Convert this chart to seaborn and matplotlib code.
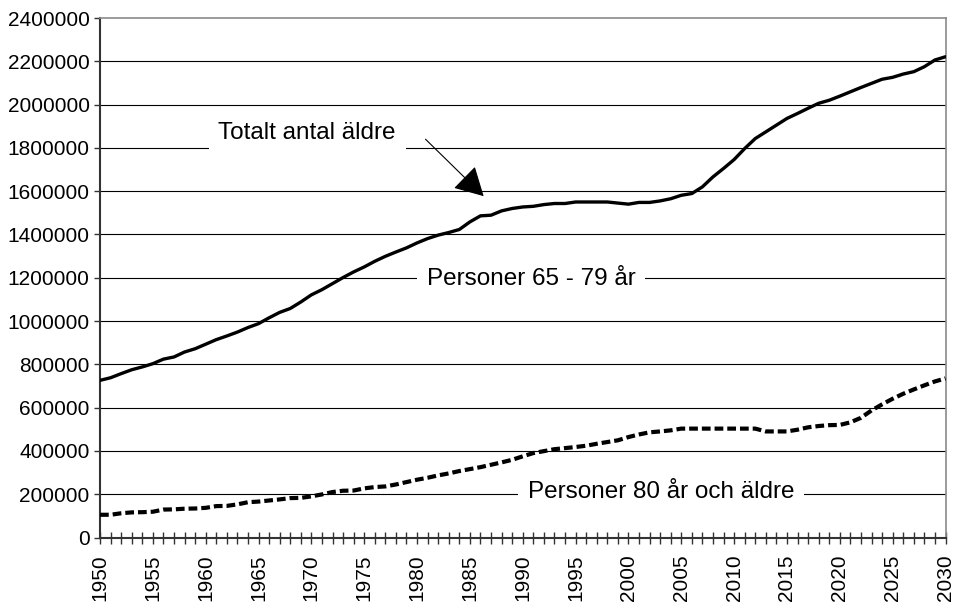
import numpy as np
import pandas as pd
import matplotlib
matplotlib.use("Agg")
import matplotlib.pyplot as plt
from matplotlib.ticker import MultipleLocator
import seaborn as sns

years = list(range(1950, 2031))

totalt = [
    726000, 738000, 757000, 775000, 788000, 803000, 824000, 834000, 857000, 872000,
    893000, 914000, 931000, 949000, 970000, 988000, 1015000, 1040000, 1058000, 1088000,
    1121000, 1145000, 1173000, 1201000, 1227000, 1250000, 1276000, 1299000, 1319000, 1338000,
    1361000, 1381000, 1397000, 1409000, 1423000, 1458000, 1486000, 1489000, 1509000, 1520000,
    1527000, 1530000, 1538000, 1543000, 1543000, 1550000, 1550000, 1550000, 1550000, 1545000,
    1540000, 1548000, 1548000, 1555000, 1565000, 1581000, 1589000, 1620000, 1666000, 1705000,
    1746000, 1797000, 1843000, 1874000, 1905000, 1936000, 1959000, 1983000, 2006000, 2020000,
    2039000, 2059000, 2079000, 2098000, 2117000, 2126000, 2141000, 2152000, 2175000, 2206000,
    2221000,
]

aldre80 = [
    105000, 105000, 112000, 116000, 117000, 119000, 129000, 130000, 133000, 134000,
    137000, 145000, 146000, 153000, 163000, 166000, 171000, 176000, 182000, 183000,
    190000, 199000, 210000, 216000, 217000, 227000, 233000, 236000, 245000, 256000,
    267000, 276000, 287000, 296000, 307000, 316000, 325000, 336000, 347000, 359000,
    375000, 390000, 399000, 408000, 413000, 418000, 424000, 433000, 441000, 449000,
    464000, 476000, 486000, 490000, 495000, 503000, 503000, 503000, 503000, 503000,
    503000, 503000, 503000, 490000, 490000, 490000, 498000, 509000, 515000, 519000,
    520000, 532000, 553000, 587000, 615000, 641000, 664000, 684000, 703000, 721000,
    735000,
]

y_ticks = list(range(0, 2400001, 200000))
x_ticks = list(range(1950, 2031, 5))

label_total = "Totalt antal äldre"
label_6579 = "Personer 65 - 79 år"
label_80 = "Personer 80 år och äldre"

df = pd.DataFrame({"år": years, "totalt": totalt, "80": aldre80})

sns.set_style("white")
plt.rcParams["font.family"] = ["Liberation Sans", "DejaVu Sans"]
plt.rcParams["text.color"] = "black"
plt.rcParams["xtick.color"] = "black"
plt.rcParams["ytick.color"] = "black"

fig = plt.figure(figsize=(9.58, 6.09), dpi=100)
ax = fig.add_axes([100 / 958, 1 - 537.5 / 609, 845.5 / 958, (537.5 - 18) / 609])

for yv in y_ticks[1:-1]:
    ax.axhline(yv, color="black", lw=0.8, zorder=1)

sns.lineplot(data=df, x="år", y="totalt", ax=ax, color="black", lw=2.4, zorder=3)
sns.lineplot(data=df, x="år", y="80", ax=ax, color="black", lw=3.0, zorder=3)
l2 = ax.get_lines()[-1]
l2.set_dashes((2.1, 0.95))
l2.set_dash_capstyle("butt")

ax.set_xlim(1950, 2030)
ax.set_ylim(0, 2400000)
ax.set_yticks(y_ticks)
ax.set_yticklabels([str(v) for v in y_ticks])
ax.set_xticks(x_ticks)
ax.set_xticklabels([str(v) for v in x_ticks], rotation=90)
ax.xaxis.set_minor_locator(MultipleLocator(1))
ax.set_xlabel("")
ax.set_ylabel("")

ax.tick_params(axis="y", which="both", direction="out", length=4, width=1, color="#333333",
               labelsize=15, labelcolor="black", pad=3.5, left=True)
ax.tick_params(axis="x", which="both", direction="inout", length=8.5, width=1, color="#333333",
               labelsize=15, labelcolor="black", pad=8, bottom=True)

for s in ["left", "bottom"]:
    ax.spines[s].set_color("#333333")
    ax.spines[s].set_linewidth(1.5)
for s in ["top", "right"]:
    ax.spines[s].set_color("#8a8a8a")
    ax.spines[s].set_linewidth(1.2)

bbox = dict(boxstyle="square,pad=0.4", fc="white", ec="none")
ax.text(1969.6, 1868000, label_total, fontsize=17.5, color="black", ha="center", va="center", bbox=bbox, zorder=2)
ax.text(1990.8, 1193000, label_6579, fontsize=17.5, color="black", ha="center", va="center", bbox=bbox, zorder=2)
ax.text(2003.1, 212000, label_80, fontsize=17.5, color="black", ha="center", va="center", bbox=bbox, zorder=2)

ax.annotate("", xy=(1986.3, 1577000), xytext=(1980.8, 1840000),
            arrowprops=dict(arrowstyle="-|>,head_length=1.0,head_width=0.55", mutation_scale=18,
                            lw=0.8, color="black", shrinkA=0, shrinkB=0), zorder=4)

fig.savefig("out.png", dpi=100)
